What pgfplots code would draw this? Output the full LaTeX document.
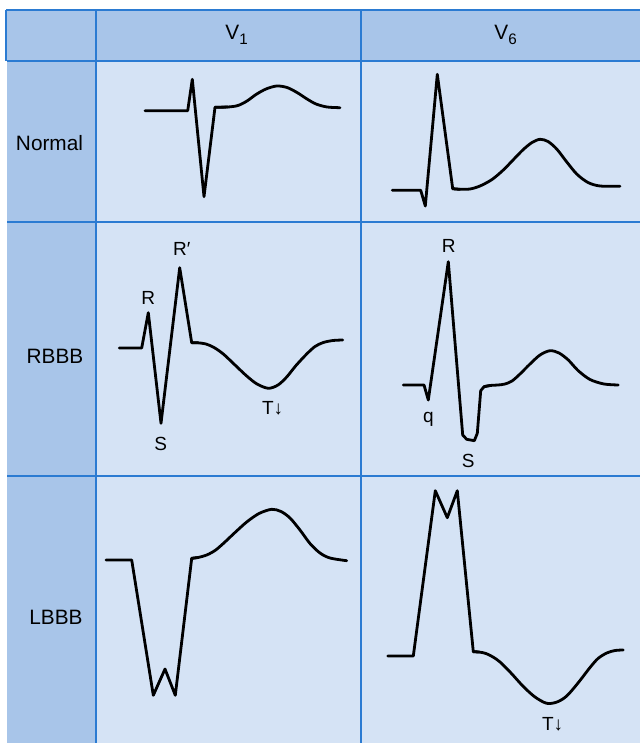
\documentclass[border=0pt]{standalone}
\usepackage{pgfplots}
\pgfplotsset{compat=1.18}
\usepackage{fontspec}
\setmainfont{Liberation Sans}
\definecolor{hdr}{HTML}{A8C5E9}
\definecolor{cell}{HTML}{D5E3F5}
\definecolor{rule}{HTML}{2B7BD2}
\newcommand{\lbl}{\fontsize{10.4}{12}\selectfont}
\newcommand{\wlbl}{\fontsize{9.5}{11}\selectfont}
\newcommand{\sub}[1]{\raisebox{-0.45ex}{\fontsize{7.6}{9}\selectfont #1}}
\pgfplotsset{
  ecg/.style={draw=black, line width=1.4pt, line join=round, line cap=round, mark=none},
  grid line/.style={draw=rule, line width=0.75pt, mark=none},
}
\begin{document}
\begin{tikzpicture}
\begin{axis}[
  scale only axis,
  width=320pt, height=371.5pt,
  xmin=0, xmax=640, ymin=0, ymax=743,
  y dir=reverse,
  hide axis,
]
% background and cells
\addplot[fill=white, draw=none] coordinates {(0,0) (640,0) (640,743) (0,743)};
\addplot[fill=hdr, draw=none] coordinates {(6,10) (640,10) (640,61) (6,61)};
\addplot[fill=hdr, draw=none] coordinates {(6,61) (96,61) (96,743) (6,743)};
\addplot[fill=cell, draw=none] coordinates {(96,61) (640,61) (640,743) (96,743)};
% rules
\addplot[grid line] coordinates {(6,10) (640,10)};
\addplot[grid line] coordinates {(6,61) (640,61)};
\addplot[grid line] coordinates {(6,222) (640,222)};
\addplot[grid line] coordinates {(6,476) (640,476)};
\addplot[grid line] coordinates {(96,10) (96,743)};
\addplot[grid line] coordinates {(361,10) (361,743)};
\addplot[draw=white, line width=0.6pt] coordinates {(6,61) (6,743)};
\addplot[grid line] coordinates {(6,10) (6,61)};

% Normal V1
\addplot[ecg] coordinates {(145,110.7) (187.7,110.7) (192.3,79.3) (204,196.7) (215,107.3) (228,107)};
\addplot[ecg, smooth, tension=0.5] coordinates {(215,107.3) (228,107) (238,105.5) (247,101) (256,94.5) (266,89) (276.7,86) (287,87.5) (297,92.5) (307,99) (316,104) (327,107) (340,107.7)};
% Normal V6
\addplot[ecg] coordinates {(392.3,190.3) (420.7,190.3) (425.3,206) (437.3,74.3) (452.7,188.7) (460,189.3)};
\addplot[ecg, smooth, tension=0.5] coordinates {(452.7,188.7) (460,189.3) (470,189) (480,186) (492,179.5) (503.3,170) (514,159) (523.3,149.5) (532,142.5) (540,139.3) (548,141.5) (556.7,149) (566,161) (576.7,174) (588,182.5) (600,186) (620,186.3)};

% RBBB V1
\addplot[ecg] coordinates {(119.3,348) (141.7,348) (148.3,312.7) (161,423.3) (179.7,267.7) (191.7,342.7) (198,342.8)};
\addplot[ecg, smooth, tension=0.5] coordinates {(191.7,342.7) (198,342.8) (206,344) (214,347.5) (223.3,354) (235,365) (246.7,376) (257,384) (268.3,388.3) (278,385) (286.7,377) (296,365.5) (306.7,354) (315,346.5) (323.3,342.5) (333,340.5) (342.7,340)};
% RBBB V6
\addplot[ecg] coordinates {(403.3,385) (424,385) (428.3,400) (448.3,261.7) (462.7,435) (466.7,439.3) (474.3,440.7) (477.3,433.3) (480.7,390.7) (484,386.7) (490,385.5)};
\addplot[ecg, smooth, tension=0.5] coordinates {(484,386.7) (490,385.5) (498,385) (505,384) (512,381) (520,374) (530,364) (540,355) (550,350.7) (559,353) (568.3,360) (578,370.5) (590,379.5) (604,384) (618.3,385)};

% LBBB V1
\addplot[ecg] coordinates {(106,560) (131.7,560) (153.3,695.3) (165,669) (175.3,695.3) (191.7,558.3) (198,557.5)};
\addplot[ecg, smooth, tension=0.5] coordinates {(191.7,558.3) (198,557.5) (206.7,555) (215,550.5) (223.3,543.5) (235,532.5) (246.7,522) (259,513.5) (271.7,509.3) (281,511.5) (290,518) (300,530) (310,543.5) (320,553) (330,558) (346.7,560.7)};
% LBBB V6
\addplot[ecg] coordinates {(387.7,656) (413.3,656) (435.3,490.7) (447.3,517.7) (457.3,490.7) (473.3,651.7) (479,652)};
\addplot[ecg, smooth, tension=0.5] coordinates {(473.3,651.7) (479,652) (486,653.5) (493,657) (500,662) (511,673) (523.3,686.5) (535,697) (546.7,703.3) (557,702) (566.7,696) (578,683) (590,667.5) (598,658.5) (606.7,653) (615,650.5) (623.3,650)};

% header texts
\node[anchor=base west, inner sep=0pt] at (225,40) {\lbl V\sub{1}};
\node[anchor=base west, inner sep=0pt] at (494,40) {\lbl V\sub{6}};
% row labels
\node[anchor=base, inner sep=0pt] at (49.5,150.7) {\lbl Normal};
\node[anchor=base, inner sep=0pt] at (55,363.3) {\lbl RBBB};
\node[anchor=base, inner sep=0pt] at (56,624) {\lbl LBBB};
% wave labels
\node[anchor=base, inner sep=0pt] at (148.3,304.3) {\wlbl R};
\node[anchor=base west, inner sep=0pt] at (172.7,255) {\wlbl R′};
\node[anchor=base, inner sep=0pt] at (160.7,450) {\wlbl S};
\node[anchor=base west, inner sep=0pt] at (261.7,414) {\wlbl T↓};
\node[anchor=base, inner sep=0pt] at (448.8,252.3) {\wlbl R};
\node[anchor=base, inner sep=0pt] at (428.3,422.7) {\wlbl q};
\node[anchor=base, inner sep=0pt] at (468.3,467.3) {\wlbl S};
\node[anchor=base west, inner sep=0pt] at (541.7,730) {\wlbl T↓};
\end{axis}
\end{tikzpicture}
\end{document}
